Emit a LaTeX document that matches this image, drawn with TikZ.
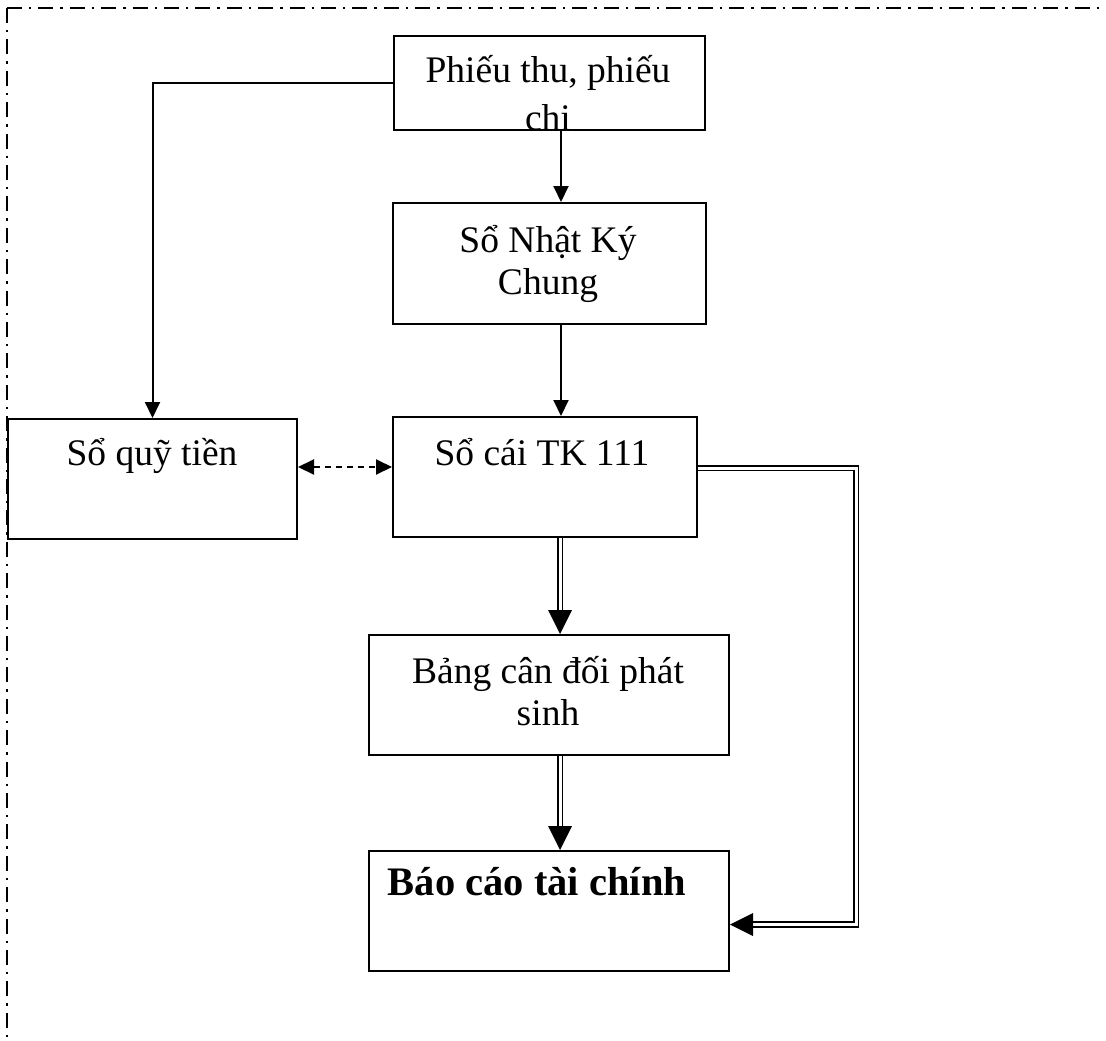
\documentclass[tikz,border=0pt]{standalone}
\usepackage{fontspec}
\setmainfont{Liberation Serif}
\usetikzlibrary{arrows.meta,calc}
\begin{document}
\begin{tikzpicture}[x=1pt,y=-1pt,
  box/.style={draw, line width=2pt, inner sep=0pt, anchor=north west},
  lbl/.style={anchor=base, inner sep=0pt, font=\fontsize{37.5}{43}\selectfont},
  arr/.style={line width=2pt, -{Triangle[length=16pt,width=15pt]}},
  dasharr/.style={line width=2pt, dash pattern=on 6pt off 5pt,
    {Triangle[length=16pt,width=15pt]}-{Triangle[length=16pt,width=15pt]}},
  dbl/.style={double, line width=1.8pt, double distance=3pt, line join=miter},
  frameline/.style={line width=2.4pt, dash pattern=on 15pt off 7pt on 2.4pt off 7pt}]

\useasboundingbox (0,0) rectangle (1106,1041);

% frame
\draw[frameline] (7,8) -- (1106,8);
\draw[frameline] (7,8) -- (7,1041);

% boxes
\node[box, minimum width=311pt, minimum height=94pt] (phieu) at (393,35) {};
\node[box, minimum width=313pt, minimum height=121pt] (nhatky) at (392,202) {};
\node[box, minimum width=289pt, minimum height=120pt] (quy) at (7,418) {};
\node[box, minimum width=304pt, minimum height=120pt] (socai) at (392,416) {};
\node[box, minimum width=360pt, minimum height=120pt] (bang) at (368,634) {};
\node[box, minimum width=360pt, minimum height=120pt] (baocao) at (368,850) {};

% labels
\begin{scope}
  \clip (phieu.north west) rectangle (phieu.south east);
  \node[lbl] (phieuA) at (548,82) {Phiếu thu, phiếu};
  \node[lbl] (phieuB) at (548,130) {chi};
\end{scope}
\node[lbl] (nhatkyA) at (548,252) {Sổ Nhật Ký};
\node[lbl] (nhatkyB) at (548,294) {Chung};
\node[lbl] (quyA) at (152,465) {Sổ quỹ tiền};
\node[lbl] (socaiA) at (542,465) {Sổ cái TK 111};
\node[lbl] (bangA) at (548,683) {Bảng cân đối phát};
\node[lbl] (bangB) at (548,725) {sinh};
\node[lbl, font=\fontsize{40.5}{46}\selectfont\bfseries] (baocaoA) at (537,895) {Báo cáo tài chính};

% helper coordinates
\coordinate (vx) at (561,0);
\coordinate (dx) at (560,0);
\coordinate (dy) at (0,467);
\coordinate (rx) at (856,0);
\coordinate (ry1) at (0,468);
\coordinate (ry2) at (0,924.5);

% single arrows
\draw[arr] (vx |- phieu.south) -- (vx |- nhatky.north);
\draw[arr] (vx |- nhatky.south) -- (vx |- socai.north);
\draw[arr] (phieu.west) -| (quy.north);

% dashed double-headed arrow
\draw[dasharr] (quy.east |- dy) -- (socai.west |- dy);

% double-line arrows
\draw[dbl] (dx |- socai.south) -- ($(dx |- bang.north)+(0,-24)$);
\fill (dx |- bang.north) -- ++(-12,-24) -- ++(24,0) -- cycle;
\draw[dbl] (dx |- bang.south) -- ($(dx |- baocao.north)+(0,-24)$);
\fill (dx |- baocao.north) -- ++(-12,-24) -- ++(24,0) -- cycle;

\draw[dbl] (socai.east |- ry1) -| (rx |- ry2) -- ($(baocao.east |- ry2)+(23,0)$);
\fill (baocao.east |- ry2) -- ++(23,-11.5) -- ++(0,23) -- cycle;
\end{tikzpicture}
\end{document}
